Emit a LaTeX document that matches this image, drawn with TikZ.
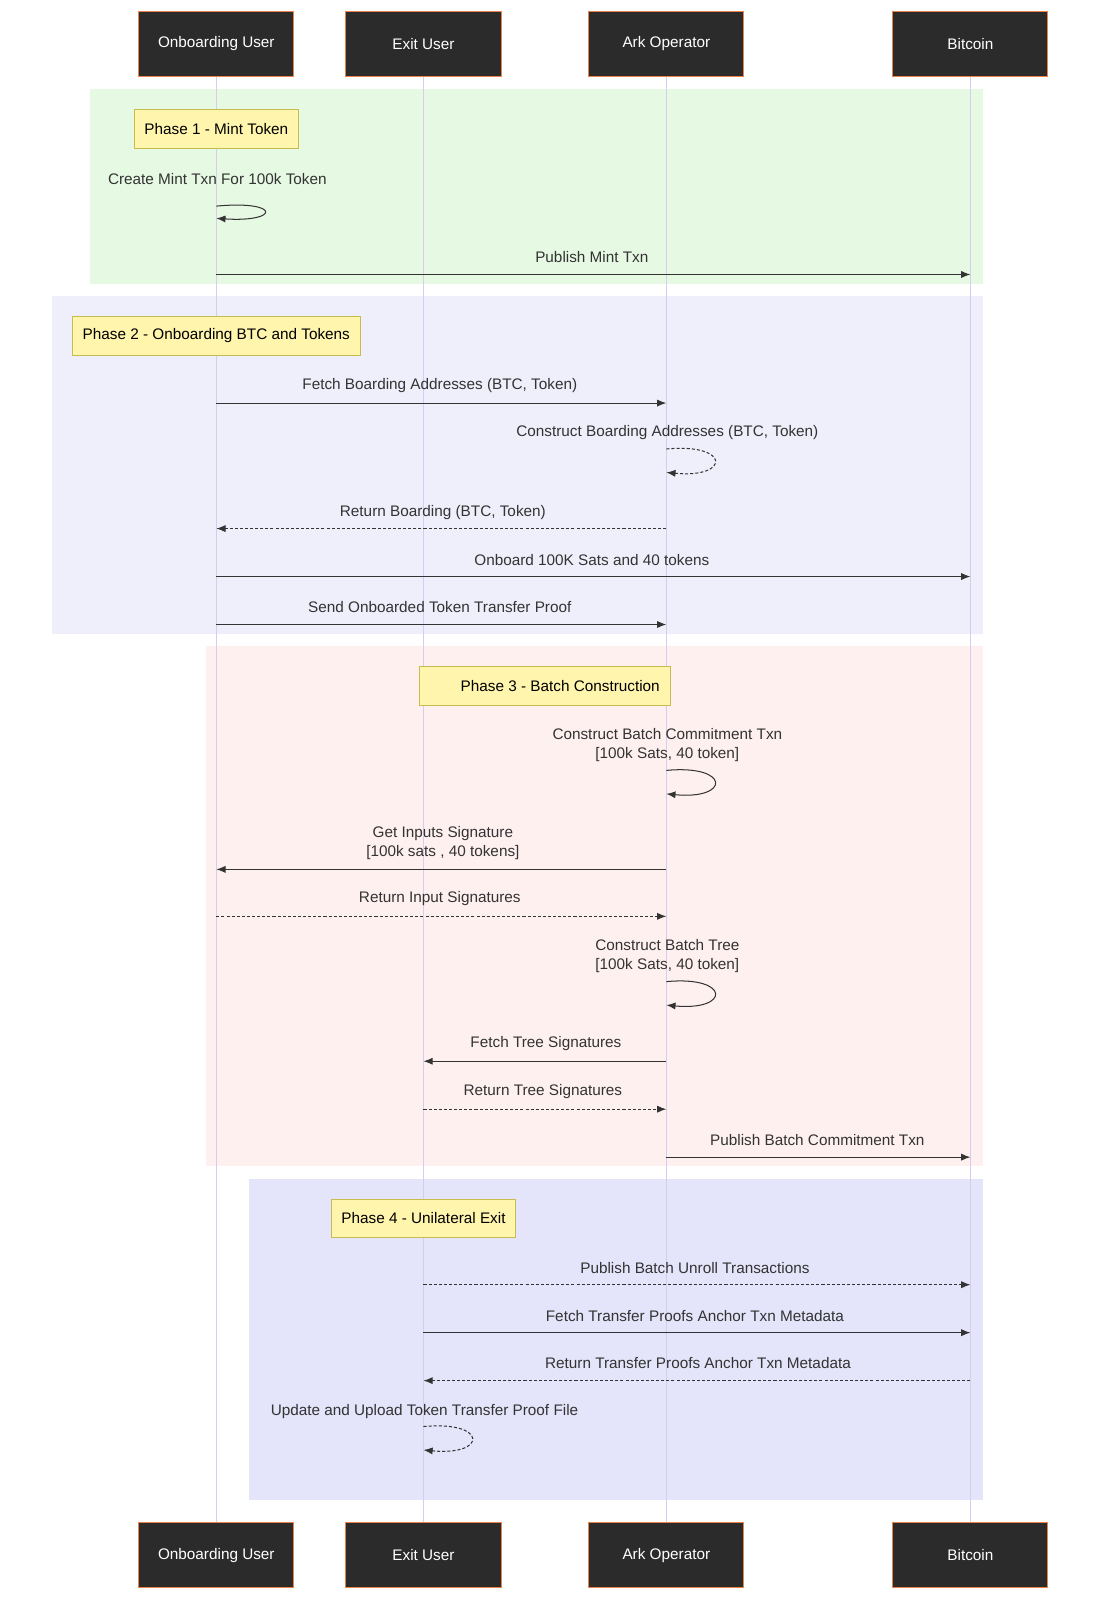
\documentclass[tikz,border=0pt]{standalone}
\usepackage{fontspec}
\setmainfont{Liberation Sans}
\usetikzlibrary{arrows.meta}
\definecolor{actfill}{HTML}{2B2B2B}
\definecolor{actborder}{HTML}{E8834A}
\definecolor{life}{HTML}{D6CCEE}
\definecolor{gr}{HTML}{E6F9E3}
\definecolor{pu}{HTML}{EFEFFC}
\definecolor{pk}{HTML}{FFF0F0}
\definecolor{la}{HTML}{E4E4FA}
\definecolor{notef}{HTML}{FFF5AD}
\definecolor{noteb}{HTML}{C8BC50}
\definecolor{ln}{HTML}{333333}
\begin{document}
\begin{tikzpicture}[x=1pt,y=-1pt,
 font=\fontsize{15}{18}\selectfont,
 actor/.style={draw=actborder,fill=actfill,text=white,minimum width=152pt,minimum height=64pt,line width=1pt},
 note/.style={draw=noteb,fill=notef,minimum height=38pt,inner xsep=10pt,line width=0.8pt},
 lbl/.style={text=ln,align=center},
 msg/.style={draw=ln,line width=1pt,-{Latex[length=9pt,width=7pt]}},
 dmsg/.style={msg,dash pattern=on 3pt off 2pt}]
\useasboundingbox (0,0) rectangle (1079,1568);
\fill[gr] (88,87) rectangle (963,278);
\fill[pu] (51,290) rectangle (963,621);
\fill[pk] (202,633) rectangle (963,1143);
\fill[la] (244,1155) rectangle (963,1470);
\foreach \n/\x/\t in {a/212/Onboarding User,b/415/Exit User,c/653/Ark Operator,d/951/Bitcoin}{
 \node[actor] (\n top) at (\x,43) {\t};
 \node[actor] (\n bot) at (\x,1524) {\t};
 \draw[life,line width=1.2pt] (\n top) -- (\n bot);
}
\node[note] (n1) at (212,126) {Phase 1 - Mint Token};
\node[note] (n2) at (212,329) {Phase 2 - Onboarding BTC and Tokens};
\node[note] (n3) at (534,672) {\hspace{30pt}Phase 3 - Batch Construction\hspace{30pt}};
\node[note] (n4) at (415,1194) {Phase 4 - Unilateral Exit};
% coordinates on lifelines
\foreach \n/\x in {a/212,b/415,c/653,d/951}{
 \foreach \y in {202,214,269,395,440,463,518,565,612,755,778,852,898,962,985,1040,1087,1134,1259,1306,1353,1398,1421}{
  \coordinate (\n\y) at (\x,\y);}}
\node[lbl] (t1) at (213,175) {Create Mint Txn For 100k Token};
\draw[msg] (a202) .. controls (275,196) and (275,218) .. (a214);
\node[lbl] (t2) at (580,252) {Publish Mint Txn};
\draw[msg] (a269) -- (d269);
\node[lbl] (t3) at (431,378) {Fetch Boarding Addresses (BTC, Token)};
\draw[msg] (a395) -- (c395);
\node[lbl] (t4) at (654,424) {Construct Boarding Addresses (BTC, Token)};
\draw[dmsg] (c440) .. controls (716,434) and (716,469) .. (c463);
\node[lbl] (t5) at (434,502) {Return Boarding (BTC, Token)};
\draw[dmsg] (c518) -- (a518);
\node[lbl] (t6) at (580,549) {Onboard 100K Sats and 40 tokens};
\draw[msg] (a565) -- (d565);
\node[lbl] (t7) at (431,595) {Send Onboarded Token Transfer Proof};
\draw[msg] (a612) -- (c612);
\node[lbl] (t8) at (654,730) {Construct Batch Commitment Txn\\{}[100k Sats, 40 token]};
\draw[msg] (c755) .. controls (716,749) and (716,784) .. (c778);
\node[lbl] (t9) at (434,826) {Get Inputs Signature\\{}[100k sats , 40 tokens]};
\draw[msg] (c852) -- (a852);
\node[lbl] (t10) at (431,881) {Return Input Signatures};
\draw[dmsg] (a898) -- (c898);
\node[lbl] (t11) at (654,937) {Construct Batch Tree\\{}[100k Sats, 40 token]};
\draw[msg] (c962) .. controls (716,956) and (716,991) .. (c985);
\node[lbl] (t12) at (535,1023) {Fetch Tree Signatures};
\draw[msg] (c1040) -- (b1040);
\node[lbl] (t13) at (532,1070) {Return Tree Signatures};
\draw[dmsg] (b1087) -- (c1087);
\node[lbl] (t14) at (801,1117) {Publish Batch Commitment Txn};
\draw[msg] (c1134) -- (d1134);
\node[lbl] (t15) at (681,1243) {Publish Batch Unroll Transactions};
\draw[dmsg] (b1259) -- (d1259);
\node[lbl] (t16) at (681,1290) {Fetch Transfer Proofs Anchor Txn Metadata};
\draw[msg] (b1306) -- (d1306);
\node[lbl] (t17) at (684,1336) {Return Transfer Proofs Anchor Txn Metadata};
\draw[dmsg] (d1353) -- (b1353);
\node[lbl] (t18) at (416,1383) {Update and Upload Token Transfer Proof File};
\draw[dmsg] (b1398) .. controls (478,1392) and (478,1427) .. (b1421);
\end{tikzpicture}
\end{document}
